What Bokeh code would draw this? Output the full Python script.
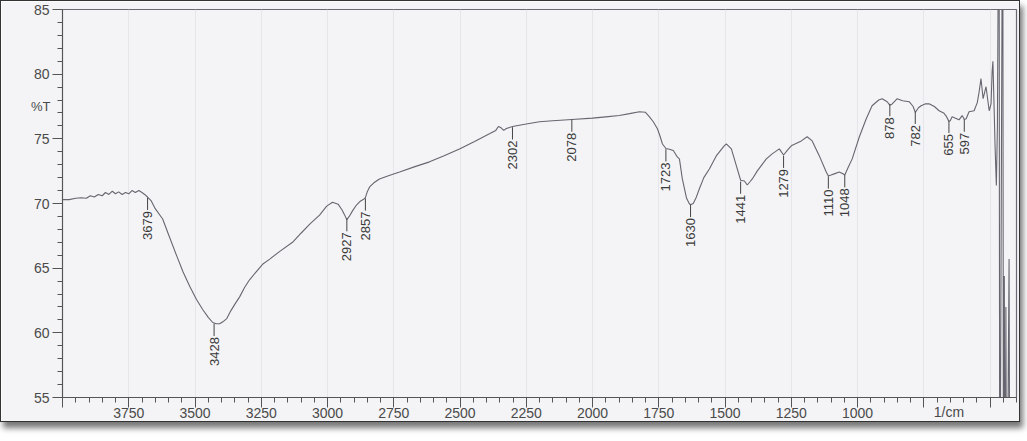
import numpy as np
from bokeh.plotting import figure
from bokeh.models import Range1d, SingleIntervalTicker, FixedTicker, LinearAxis, ColumnDataSource
from bokeh.core.properties import value
from bokeh.embed import file_html
from bokeh.resources import INLINE

# ---- spectrum (wavenumber in 1/cm, %T) ----
wavenumber = [
    4000, 3975, 3950, 3930, 3910, 3895, 3880, 3865, 3850, 3838, 3825, 3812, 3800, 3788,
    3775, 3762, 3750, 3738, 3725, 3712, 3700, 3690, 3679, 3665, 3650, 3622, 3600, 3569,
    3545, 3520, 3495, 3471, 3450, 3433, 3420, 3407, 3395, 3380, 3365, 3350, 3331, 3313,
    3294, 3270, 3245, 3218, 3180, 3132, 3100, 3067, 3030, 3003, 2981, 2960, 2945, 2935,
    2927, 2918, 2905, 2890, 2875, 2862, 2857, 2850, 2841, 2825, 2804, 2770, 2728, 2670,
    2615, 2560, 2502, 2445, 2389, 2365, 2355, 2345, 2335, 2325, 2302, 2250, 2200, 2150,
    2078, 2000, 1950, 1899, 1860, 1823, 1800, 1785, 1770, 1755, 1745, 1736, 1723, 1710,
    1695, 1680, 1672, 1661, 1645, 1635, 1630, 1620, 1610, 1597, 1580, 1559, 1533, 1503,
    1495, 1476, 1457, 1441, 1427, 1416, 1405, 1397, 1378, 1344, 1322, 1295, 1279, 1265,
    1250, 1212, 1190, 1171, 1144, 1118, 1110, 1100, 1088, 1069, 1055, 1048, 1035, 1020,
    993, 967, 945, 920, 907, 888, 878, 869, 850, 830, 805, 790, 782, 770, 760, 745, 730,
    710, 692, 675, 666, 655, 650, 643, 630, 617, 605, 597, 590, 579, 560, 548, 541, 534,
    526, 515, 503, 496, 492, 489, 484, 481, 476, 472, 466, 463, 452, 449, 446, 443, 440,
    437, 428, 425,
]
transmittance = [
    70.3, 70.3, 70.4, 70.45, 70.4, 70.6, 70.5, 70.7, 70.6, 70.85, 70.7, 70.95, 70.75, 70.9,
    70.7, 70.85, 70.75, 71.0, 70.85, 71.0, 70.85, 70.7, 70.5, 70.2, 69.6, 68.8, 67.6, 65.95,
    64.7, 63.6, 62.6, 61.8, 61.2, 60.8, 60.7, 60.7, 60.85, 61.1, 61.7, 62.2, 62.8, 63.5,
    64.1, 64.7, 65.3, 65.7, 66.3, 67.0, 67.7, 68.4, 69.1, 69.8, 70.1, 69.95, 69.5, 69.1,
    68.75, 69.0, 69.45, 69.9, 70.2, 70.35, 70.45, 70.9, 71.28, 71.6, 71.9, 72.15, 72.44, 72.85,
    73.22, 73.7, 74.22, 74.8, 75.39, 75.65, 75.95, 75.85, 75.65, 75.8, 75.95, 76.15, 76.32, 76.4,
    76.5, 76.6, 76.7, 76.8, 76.95, 77.1, 77.05, 76.7, 76.3, 75.78, 75.2, 74.6, 74.25, 74.2,
    74.1, 73.6, 73.45, 71.9, 70.4, 70.0, 69.9, 70.0, 70.4, 71.12, 72.0, 72.67, 73.68, 74.46,
    74.61, 74.22, 72.91, 71.8, 71.74, 71.43, 71.7, 71.9, 72.52, 73.45, 73.84, 74.22, 73.75, 74.1,
    74.46, 74.84, 75.16, 74.84, 73.68, 72.44, 72.13, 72.2, 72.29, 72.44, 72.3, 72.2, 72.8, 73.45,
    75.16, 76.55, 77.56, 78.0, 78.1, 77.87, 77.6, 77.7, 78.1, 77.95, 77.87, 77.5, 77.05, 77.4, 77.56, 77.7, 77.71,
    77.5, 77.17, 77.0, 76.78, 76.35, 76.4, 76.7, 76.6, 76.47, 76.8, 76.5, 76.55, 77.09, 77.17, 77.8, 78.64, 79.65,
    78.1, 79.03, 77.17, 77.7, 80.2, 81.0, 77.0, 74.5, 71.4, 76.0, 100.0, 40.0, 100.0, 40.0, 64.4, 40.0, 62.0,
    40.0, 65.7, 40.0,
]

# ---- labelled peaks ----
peak_wn = [3679, 3428, 2927, 2857, 2302, 2078, 1723, 1630, 1441, 1279, 1110, 1048, 878, 782, 655, 597]
peak_T = [70.45, 60.7, 68.8, 70.4, 75.9, 76.5, 74.2, 69.9, 71.7, 73.7, 72.1, 72.2, 77.7, 77.1, 76.4, 76.5]
peak_text = [str(v) for v in peak_wn]

x_ticks_hidden = [4000, 750, 500]
y_caption_pos = 77.5      # where "%T" sits on the y scale
x_caption_pos = 655       # where "1/cm" sits on the x scale

LEAD = 0.95  # leader line length in %T units

p = figure(
    width=1020, height=422,
    x_range=Range1d(4000, 400), y_range=Range1d(55, 85),
    output_backend="svg", toolbar_location=None,
    min_border_left=61, min_border_right=5, min_border_top=8, min_border_bottom=26,
    background_fill_color="#f4f4f6", border_fill_color="#f4f4f6",
    outline_line_color="#6a6a72", outline_line_width=1.2,
)
p.styles = {"border": "1px solid #333", "box-shadow": "3px 6px 6px #777"}

# axes
p.xaxis.ticker = SingleIntervalTicker(interval=250, num_minor_ticks=5)
p.yaxis.ticker = SingleIntervalTicker(interval=5, num_minor_ticks=5)
p.xaxis.major_label_overrides = {v: "" for v in x_ticks_hidden}
for ax in (p.xaxis[0], p.yaxis[0]):
    ax.axis_line_color = "#555"
    ax.major_tick_line_color = "#555"
    ax.minor_tick_line_color = "#555"
    ax.major_tick_out = 10
    ax.major_tick_in = 0
    ax.minor_tick_out = 5
    ax.minor_tick_in = 0
    ax.major_label_text_font = "Liberation Sans"
    ax.major_label_text_font_size = "14px"
    ax.major_label_text_color = "#4a4a4a"
p.xaxis.major_label_standoff = 0
p.yaxis.major_label_standoff = 3

# caption axes ("%T" and "1/cm")
cap_y = LinearAxis(ticker=FixedTicker(ticks=[y_caption_pos], minor_ticks=[]),
                   major_label_overrides={y_caption_pos: "%T"})
cap_x = LinearAxis(ticker=FixedTicker(ticks=[x_caption_pos], minor_ticks=[]),
                   major_label_overrides={x_caption_pos: "1/cm"})
for ax in (cap_x, cap_y):
    ax.axis_line_color = None
    ax.major_tick_line_color = None
    ax.minor_tick_line_color = None
    ax.major_tick_out = 0
    ax.major_tick_in = 0
    ax.major_label_text_font = "Liberation Sans"
    ax.major_label_text_color = "#4a4a4a"
cap_y.major_label_text_font_size = "13px"
cap_x.major_label_text_font_size = "14px"
cap_y.major_label_standoff = -20
cap_x.major_label_standoff = -17
p.add_layout(cap_y, "left")
p.add_layout(cap_x, "below")

p.xgrid.grid_line_color = "#e6e6ea"
p.xgrid.grid_line_width = 1
p.ygrid.grid_line_color = None

# spectrum
src = ColumnDataSource(dict(x=wavenumber, y=transmittance))
p.line("x", "y", source=src, line_color="#666670", line_width=1.1)

# peak leader lines and labels
lab = ColumnDataSource(dict(
    x=peak_wn, y=peak_T, y0=[t - LEAD for t in peak_T], text=peak_text,
))
p.segment(x0="x", y0="y", x1="x", y1="y0", source=lab, line_color="#444", line_width=1)
p.text(x="x", y="y0", text="text", source=lab, angle=np.pi / 2,
       text_align="right", text_baseline="middle", y_offset=1,
       text_font=value("Liberation Sans Narrow, Liberation Sans"),
       text_font_size="13px", text_color="#3a3a3a")

open("out.html", "w").write(file_html(p, INLINE))
